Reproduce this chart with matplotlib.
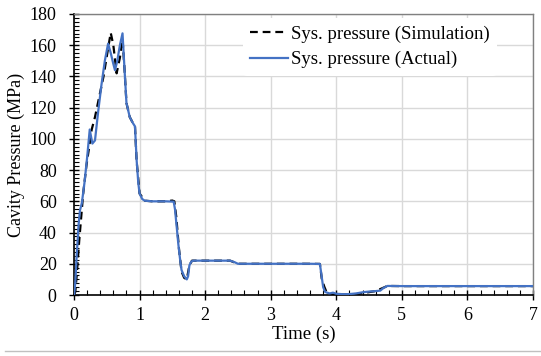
import matplotlib.pyplot as plt
from matplotlib.ticker import MultipleLocator
from matplotlib.lines import Line2D

plt.rcParams['font.family'] = ['Liberation Serif', 'DejaVu Serif']

# actual (measured) system pressure
t_act = [0.0, 0.02, 0.04, 0.07, 0.09, 0.12, 0.16, 0.2, 0.24, 0.28, 0.32, 0.37,
         0.42, 0.47, 0.52, 0.56, 0.6, 0.625, 0.66, 0.7, 0.74, 0.77, 0.8, 0.85,
         0.9, 0.93, 0.955, 0.98, 1.0, 1.04, 1.08, 1.2, 1.4, 1.52, 1.54, 1.57,
         1.59, 1.62, 1.64, 1.68, 1.72, 1.74, 1.76, 1.79, 1.82, 2.0, 2.2, 2.38,
         2.45, 2.5, 2.8, 3.2, 3.6, 3.75, 3.77, 3.8, 3.83, 3.86, 3.9, 3.95, 4.0,
         4.1, 4.2, 4.3, 4.41, 4.5, 4.6, 4.67, 4.72, 4.78, 5.0, 5.5, 6.0, 6.5, 7.0]
p_act = [0.0, 8, 24.5, 45, 54, 59, 72, 88, 106, 97, 99, 118,
         135, 150, 161, 155, 148, 144, 150, 160, 167.6, 145, 123, 114,
         110, 108, 86.5, 72, 65, 61.5, 60.4, 60, 60, 59.8, 55, 42,
         33, 22, 16, 12, 10, 12, 19, 21.5, 22, 22, 22, 22,
         21, 20, 20, 20, 20, 19.9, 14, 5, 2, 1.5, 1, 1.5, 0.8,
         0.5, 0.6, 1.0, 1.8, 2.2, 2.5, 2.8, 4.5, 5.8, 5.7, 5.7, 5.7, 5.7, 5.7]

# simulated system pressure
t_sim = [0.0, 0.02, 0.04, 0.08, 0.14, 0.19, 0.27, 0.32, 0.37, 0.45, 0.52, 0.56,
         0.6, 0.65, 0.7, 0.74, 0.77, 0.8, 0.85, 0.9, 0.93, 0.955, 1.0, 1.08,
         1.2, 1.4, 1.5, 1.53, 1.56, 1.6, 1.64, 1.68, 1.72, 1.76, 1.8, 2.0,
         2.38, 2.5, 3.0, 3.5, 3.75, 3.78, 3.82, 3.86, 3.9, 4.0, 4.3, 4.6,
         4.78, 5.0, 6.0, 7.0]
p_sim = [0.0, 2, 12, 35, 65, 83, 106, 114, 124, 140, 158, 168,
         160, 142, 152, 164, 145, 123, 114, 110, 108, 86, 65, 60.4,
         60, 60, 60.5, 60, 50, 30, 15, 11, 10, 19, 22, 22,
         22, 20, 20, 20, 19.9, 10, 5, 1, 0.3, 0.2, 0.5, 2.5,
         5.8, 5.7, 5.7, 5.7]

fig = plt.figure(figsize=(5.41, 3.56), dpi=100)
ax = fig.add_axes([74 / 541, 1 - 295 / 356, 459 / 541, 281 / 356])

ax.plot(t_sim, p_sim, color='black', lw=1.6, dashes=(3.5, 2.2),
        label='Sys. pressure (Simulation)', zorder=3)
ax.plot(t_act, p_act, color='#4472C4', lw=1.6,
        label='Sys. pressure (Actual)', zorder=4)

ax.set_xlim(0, 7)
ax.set_ylim(0, 180)
ax.xaxis.set_major_locator(MultipleLocator(1))
ax.xaxis.set_minor_locator(MultipleLocator(0.2))
ax.yaxis.set_major_locator(MultipleLocator(20))
ax.yaxis.set_minor_locator(MultipleLocator(2.5))
ax.tick_params(which='major', direction='inout', length=7, width=1,
               labelsize=13)
ax.tick_params(axis='x', which='major', pad=5)
ax.tick_params(axis='y', which='major', pad=9)
ax.tick_params(which='minor', direction='in', length=3.5, width=0.8)
ax.grid(True, which='major', color='#d9d9d9', lw=1)
ax.set_axisbelow(True)

for s in ['left', 'bottom']:
    ax.spines[s].set_color('black')
    ax.spines[s].set_linewidth(1.2)
for s in ['top', 'right']:
    ax.spines[s].set_color('#808080')
    ax.spines[s].set_linewidth(1)

ax.set_xlabel('Time (s)', fontsize=13.5, labelpad=1)
ax.set_ylabel('Cavity Pressure (MPa)', fontsize=13, labelpad=3)

leg = ax.legend(loc='upper left', bbox_to_anchor=(0.36, 1.0), fontsize=13.5,
                frameon=True, facecolor='white', edgecolor='none', framealpha=1,
                handlelength=2.0, handletextpad=0.15, borderaxespad=0.2,
                labelspacing=0.45)

fig.add_artist(Line2D([0.01, 1.0], [0.015, 0.015], color='#c0c0c0', lw=1))

fig.savefig('out.png', dpi=100)
